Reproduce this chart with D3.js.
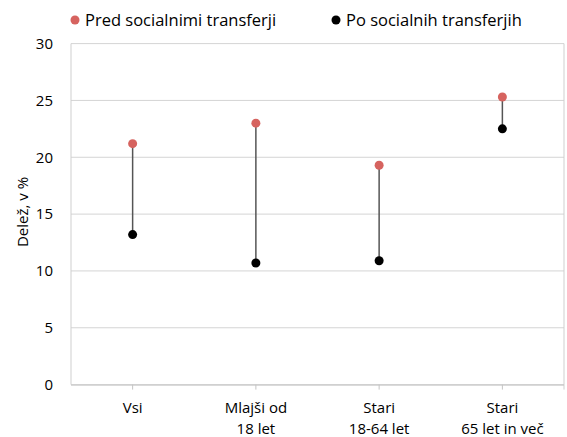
<!DOCTYPE html>
<html>
<head>
<meta charset="utf-8">
<script src="https://cdn.jsdelivr.net/npm/d3@7"></script>
<style>
  body { margin: 0; background: #fff; }
  text { font-family: "Open Sans", "DejaVu Sans", sans-serif; fill: #000; }
</style>
</head>
<body>
<div id="chart"></div>
<script>
// categories (two-line labels) and the two series
var categories = ["Vsi", "Mlajši od\n18 let", "Stari\n18-64 let", "Stari\n65 let in več"];
var beforeTransfers = [21.2, 23.0, 19.3, 25.3];
var afterTransfers = [13.2, 10.7, 10.9, 22.5];
var yTicks = [0, 5, 10, 15, 20, 25, 30];
var seriesNames = ["Pred socialnimi transferji", "Po socialnih transferjih"];

var svgWidth = 567;
var svgHeight = 437;

var margin = { top: 43.6, right: 3, bottom: 52.4, left: 71 };
var width = svgWidth - margin.left - margin.right;
var height = svgHeight - margin.top - margin.bottom;

var red = "#d6635f";

var svg = d3.select("#chart")
    .append("svg")
    .attr("width", svgWidth)
    .attr("height", svgHeight);

var chartGroup = svg.append("g")
    .attr("transform", `translate(${margin.left}, ${margin.top})`);

var xScale = d3.scaleBand()
    .domain(categories)
    .range([0, width]);

var yScale = d3.scaleLinear()
    .domain([0, 30])
    .range([height, 0]);

// gridlines
chartGroup.selectAll(".grid")
    .data(yTicks)
    .enter()
    .append("line")
    .attr("x1", 0)
    .attr("x2", width)
    .attr("y1", d => yScale(d))
    .attr("y2", d => yScale(d))
    .attr("stroke", "#d4d4d4")
    .attr("stroke-width", 1);

// frame (left and right edges)
chartGroup.append("line")
    .attr("x1", 0).attr("x2", 0)
    .attr("y1", 0).attr("y2", height)
    .attr("stroke", "#cfcfcf");
chartGroup.append("line")
    .attr("x1", width).attr("x2", width)
    .attr("y1", 0).attr("y2", height + 5)
    .attr("stroke", "#cfcfcf");

// y axis labels
var yAxis = d3.axisLeft(yScale)
    .tickValues(yTicks)
    .tickSize(0)
    .tickPadding(18);

var yAxisG = chartGroup.append("g").call(yAxis);
yAxisG.select(".domain").remove();
yAxisG.selectAll("text")
    .style("font-size", "15px");

// x axis
var xAxis = d3.axisBottom(xScale)
    .tickSize(5)
    .tickFormat("");

var xAxisG = chartGroup.append("g")
    .attr("transform", `translate(0, ${height})`)
    .call(xAxis);
xAxisG.select(".domain")
    .attr("d", `M0,0.5H${width}`)
    .attr("stroke", "#c4c4c4");
xAxisG.selectAll(".tick line").attr("stroke", "#c4c4c4");

// two-line category labels
xAxisG.selectAll(".tick")
    .append("text")
    .attr("text-anchor", "middle")
    .style("font-size", "15px")
    .each(function(d) {
        var lines = d.split("\n");
        var t = d3.select(this);
        lines.forEach(function(line, i) {
            t.append("tspan")
                .attr("x", 0)
                .attr("y", 28 + i * 21)
                .text(line);
        });
    });

// connecting lines
chartGroup.selectAll(".stem")
    .data(categories)
    .enter()
    .append("line")
    .attr("x1", d => xScale(d) + xScale.bandwidth() / 2)
    .attr("x2", d => xScale(d) + xScale.bandwidth() / 2)
    .attr("y1", (d, i) => yScale(beforeTransfers[i]))
    .attr("y2", (d, i) => yScale(afterTransfers[i]))
    .attr("stroke", "#555")
    .attr("stroke-width", 1.5);

// points
chartGroup.selectAll(".before")
    .data(beforeTransfers)
    .enter()
    .append("circle")
    .attr("cx", (d, i) => xScale(categories[i]) + xScale.bandwidth() / 2)
    .attr("cy", d => yScale(d))
    .attr("r", 4.5)
    .attr("fill", red);

chartGroup.selectAll(".after")
    .data(afterTransfers)
    .enter()
    .append("circle")
    .attr("cx", (d, i) => xScale(categories[i]) + xScale.bandwidth() / 2)
    .attr("cy", d => yScale(d))
    .attr("r", 4.5)
    .attr("fill", "#000");

// y axis title
svg.append("text")
    .attr("transform", "translate(28, 212) rotate(-90)")
    .attr("text-anchor", "middle")
    .style("font-size", "15px")
    .text("Delež, v %");

// legend
var legendX = [75, 336];
var legendColors = [red, "#000"];
var legend = svg.selectAll(".legend")
    .data(seriesNames)
    .enter()
    .append("g")
    .attr("transform", (d, i) => `translate(${legendX[i]}, 20)`);

legend.append("circle")
    .attr("r", 4.5)
    .attr("fill", (d, i) => legendColors[i]);

legend.append("text")
    .attr("x", 10)
    .attr("y", 5.5)
    .style("font-size", "16.5px")
    .text(d => d);
</script>
</body>
</html>
